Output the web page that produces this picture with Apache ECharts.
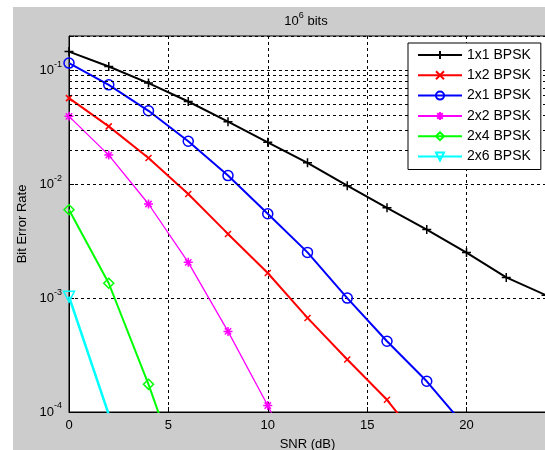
<!DOCTYPE html>
<html>
<head>
<meta charset="utf-8">
<script src="https://cdn.jsdelivr.net/npm/echarts@6/dist/echarts.min.js"></script>
<style>
html,body{margin:0;padding:0;background:#fff;}
#bg{position:absolute;left:13px;top:7px;width:532px;height:443px;background:#cccccc;}
#main{position:absolute;left:0;top:0;width:545px;height:450px;}
</style>
</head>
<body>
<div id="bg"></div>
<div id="main"></div>
<script>
// SNR points (dB)
var snr = [0, 2, 4, 6, 8, 10, 12, 14, 16, 18, 20, 22, 24];
// BER, one list per curve
var ber1x1 = [0.146, 0.108, 0.0772, 0.0532, 0.0354, 0.0233, 0.0154, 0.0097, 0.0062, 0.0040, 0.00251, 0.00152, 0.00106];
var ber1x2 = [0.057, 0.0322, 0.0170, 0.0082, 0.00366, 0.00166, 0.00067, 0.000289, 0.000128, 0.000046];
var ber2x1 = [0.1156, 0.0745, 0.0441, 0.0238, 0.0119, 0.0055, 0.00252, 0.00100, 0.000418, 0.000186, 0.0000723];
var ber2x2 = [0.0394, 0.0180, 0.0067, 0.00206, 0.00051, 0.000114, 0.0000224];
var ber2x4 = [0.00597, 0.00135, 0.000175, 0.000018];
var ber2x6 = [0.00103, 0.000095];
var names = ["1x1 BPSK", "1x2 BPSK", "2x1 BPSK", "2x2 BPSK", "2x4 BPSK", "2x6 BPSK"];
var xTicks = [0, 5, 10, 15, 20];

var font = "'Liberation Sans', Arial, sans-serif";

var plus = "path://M5,0L5,10M0,5L10,5";
var cross = "path://M0,0L10,10M10,0L0,10";
var ring = "path://M0,5A5,5 0 1,1 10,5A5,5 0 1,1 0,5Z";
var star = "path://M5,0L5,10M0,5L10,5M1.5,1.5L8.5,8.5M8.5,1.5L1.5,8.5";
var diamond = "path://M5,0L10,5L5,10L0,5Z";
var tri = "path://M0,0L10,0L5,9Z";

function pairs(vals) {
  return vals.map(function (v, i) { return [snr[i], v]; });
}

function curve(name, vals, color, width, symbol, size) {
  return {
    name: name,
    type: "line",
    data: pairs(vals),
    symbol: symbol,
    symbolSize: size,
    showAllSymbol: true,
    clip: true,
    lineStyle: { color: color, width: width },
    itemStyle: { color: "rgba(0,0,0,0)", borderColor: color, borderWidth: 1.5 },
    emphasis: { disabled: true },
    z: 3
  };
}

// minor grid at 2..9 x 10^k
var minor = [];
for (var k = -4; k <= -1; k++) {
  for (var m = 2; m <= 9; m++) {
    var v = m * Math.pow(10, k);
    if (v < 0.2) minor.push({ yAxis: v });
  }
}

var dash = { type: [3, 3], color: "#000", width: 1 };

var myChart = echarts.init(document.getElementById("main"));
var option = {
  backgroundColor: "transparent",
  animation: false,
  textStyle: { fontFamily: font },
  graphic: [{
    type: "text",
    x: 306, y: 21,
    style: {
      text: "{b|10}{s|6}{b| bits}",
      align: "center",
      verticalAlign: "middle",
      rich: {
        b: { fontFamily: font, fontSize: 13, color: "#000", verticalAlign: "middle" },
        s: { fontFamily: font, fontSize: 9, color: "#000", verticalAlign: "middle", padding: [0, 0, 11, 0] }
      }
    }
  }],
  grid: {
    left: 69, right: -1, top: 36, bottom: 38,
    outerBoundsMode: "none",
    containLabel: false,
    show: true, backgroundColor: "#fff", borderColor: "#000", borderWidth: 1
  },
  legend: {
    orient: "vertical",
    left: 408, top: 43,
    z: 20,
    data: names,
    itemWidth: 44, itemHeight: 10, itemGap: 6.3,
    padding: [5, 10, 6, 9],
    backgroundColor: "#fff", borderColor: "#000", borderWidth: 1, borderRadius: 0,
    selectedMode: false,
    textStyle: { fontFamily: font, fontSize: 14, color: "#000" }
  },
  xAxis: {
    type: "value", min: 0, max: 24, interval: 5,
    name: "SNR (dB)", nameLocation: "middle", nameGap: 26,
    nameTextStyle: { fontFamily: font, fontSize: 13, color: "#000" },
    axisLine: { lineStyle: { color: "#000", width: 1 } },
    axisTick: { inside: true, length: 5, lineStyle: { color: "#000" } },
    axisLabel: {
      margin: 7, fontFamily: font, fontSize: 13, color: "#000",
      formatter: function (v) { return xTicks.indexOf(v) >= 0 ? String(v) : ""; }
    },
    splitLine: { show: true, lineStyle: dash }
  },
  yAxis: {
    type: "log", logBase: 10, min: 0.0001, max: 0.2,
    name: "Bit Error Rate", nameLocation: "middle", nameGap: 36,
    nameTextStyle: { fontFamily: font, fontSize: 13, color: "#000" },
    axisLine: { lineStyle: { color: "#000", width: 1 } },
    axisTick: { inside: true, length: 5, lineStyle: { color: "#000" } },
    axisLabel: {
      margin: 7, color: "#000",
      formatter: function (v) {
        var e = Math.round(Math.log10(v));
        if (Math.abs(Math.log10(v) - e) > 1e-6) return "";
        return "{b|10}{s|" + e + "}";
      },
      rich: {
        b: { fontFamily: font, fontSize: 13, color: "#000", verticalAlign: "middle" },
        s: { fontFamily: font, fontSize: 9, color: "#000", verticalAlign: "middle", padding: [0, 0, 12, 0] }
      }
    },
    splitLine: { show: true, lineStyle: dash }
  },
  series: [
    curve(names[0], ber1x1, "#000000", 2, plus, 9),
    curve(names[1], ber1x2, "#ff0000", 2, cross, 6),
    curve(names[2], ber2x1, "#0000ff", 2, ring, 10),
    curve(names[3], ber2x2, "#ff00ff", 1.3, star, 9),
    curve(names[4], ber2x4, "#00ff00", 2, diamond, 10),
    curve(names[5], ber2x6, "#00ffff", 2.5, tri, 11),
    {
      name: "grid", type: "line", data: [], silent: true, z: 1,
      markLine: {
        silent: true, symbol: ["none", "none"], label: { show: false },
        lineStyle: dash, emphasis: { disabled: true },
        data: minor
      }
    }
  ]
};
if (option && typeof option === "object") {
  myChart.setOption(option);
}
</script>
</body>
</html>
